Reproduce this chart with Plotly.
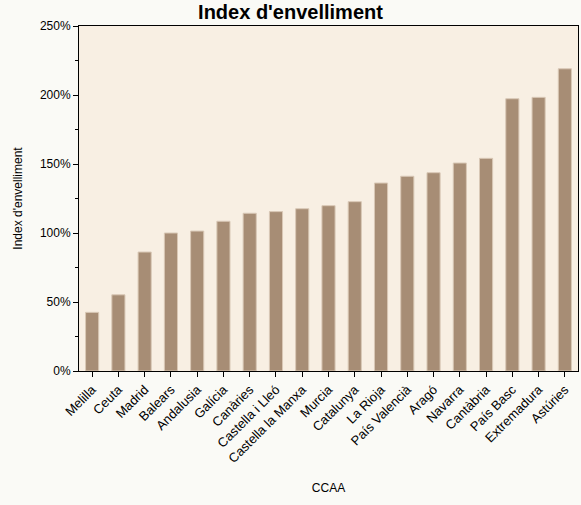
import plotly.graph_objects as go

categories = ["Melilla", "Ceuta", "Madrid", "Balears", "Andalusia", "Galícia", "Canàries",
              "Castella i Lleó", "Castella la Manxa", "Murcia", "Catalunya", "La Rioja",
              "País Valencià", "Aragó", "Navarra", "Cantàbria", "País Basc", "Extremadura",
              "Astúries"]
values = [42.5, 55.2, 86.2, 100.0, 101.4, 108.5, 114.3, 115.5, 117.6, 119.8, 122.7,
          136.2, 141.1, 143.7, 150.7, 154.1, 197.3, 198.3, 219.0]
y_ticks = [0, 50, 100, 150, 200, 250]
y_tick_labels = ["0%", "50%", "100%", "150%", "200%", "250%"]

font = "Liberation Sans, Arial, Helvetica, sans-serif"

fig = go.Figure(go.Bar(
    x=categories, y=values,
    marker=dict(color="#a78d75", line=dict(color="#d9c8b6", width=1)),
))

fig.update_layout(
    width=581, height=505,
    margin=dict(l=79, r=3, t=26, b=134),
    paper_bgcolor="#fafaf6",
    plot_bgcolor="#f8efe3",
    bargap=0.5,
    showlegend=False,
    font=dict(family=font, size=12, color="black"),
    title=dict(text="<b>Index d'envelliment</b>", x=0.5, xanchor="center",
               y=0.976, yanchor="middle", font=dict(size=20, family=font)),
)
fig.update_xaxes(
    title=dict(text="CCAA", standoff=18, font=dict(size=12)),
    tickangle=-45, ticks="outside", ticklen=5, tickcolor="black",
    showline=True, linecolor="black", linewidth=1, mirror=True,
    showgrid=False, tickfont=dict(size=13),
)
fig.update_yaxes(
    title=dict(text="Index d'envelliment", font=dict(size=12), standoff=14),
    range=[0, 250], tickvals=y_ticks, ticktext=y_tick_labels,
    ticks="outside", ticklen=5, tickcolor="black",
    minor=dict(dtick=25, ticks="outside", ticklen=3, tickcolor="black", showgrid=False),
    showline=True, linecolor="black", linewidth=1, mirror=True,
    showgrid=False, zeroline=False, tickfont=dict(size=12),
)

fig.write_html(
    "out.html",
    config={"displayModeBar": False},
    post_script="document.body.style.margin='0';document.body.style.background='#fafaf6';",
)
